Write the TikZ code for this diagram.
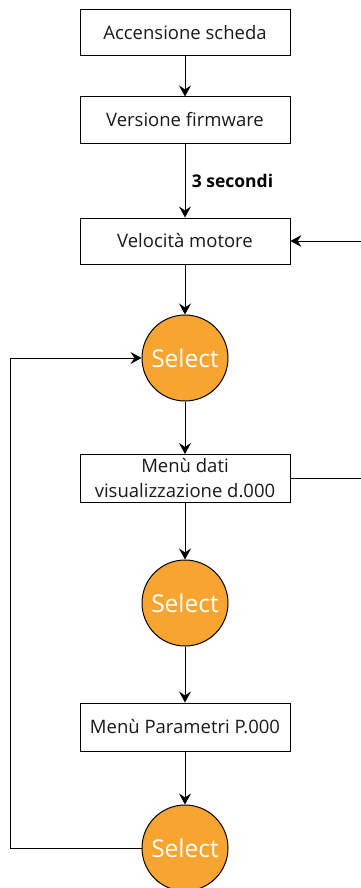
\documentclass[tikz,border=0pt]{standalone}
\usepackage{fontspec}
\setmainfont{Open Sans}
\usetikzlibrary{arrows.meta}
\definecolor{selorange}{RGB}{247,164,48}
\begin{document}
\begin{tikzpicture}[x=1pt,y=-1pt,
  stepbox/.style={draw,line width=1pt,minimum width=210pt,minimum height=46pt,inner sep=0pt,font=\fontsize{18.5}{22}\selectfont,align=center,text=black!90},
  selnode/.style={circle,draw,line width=1pt,fill=selorange,minimum size=86pt,inner sep=0pt,font=\fontsize{24.5}{26}\selectfont,text=white},
  conn/.style={line width=1pt,-{Stealth[length=11pt,width=12pt,inset=4pt]}},
  plain/.style={line width=1pt}]
\useasboundingbox (0,0) rectangle (360,888);
\node[stepbox] (b1) at (185,33) {Accensione scheda};
\node[stepbox] (b2) at (185,120) {Versione firmware};
\node[stepbox] (b3) at (185,241) {Velocità motore};
\node[selnode] (s1) at (185,358) {Select};
\node[stepbox,minimum height=48pt,font=\fontsize{18.5}{25}\selectfont] (b4) at (185,478.5) {Menù dati\\visualizzazione d.000};
\node[selnode] (s2) at (185,603) {Select};
\node[stepbox,minimum height=48pt] (b5) at (185,727) {Menù Parametri P.000};
\node[selnode] (s3) at (185,848) {Select};
\coordinate (rin) at (362,241);
\coordinate (rout) at (362,478);
\coordinate (l1) at (10,848);
\coordinate (l2) at (10,358);
\draw[conn] (b1) -- (b2);
\draw[conn] (b2) -- node[right,font=\bfseries\fontsize{17.5}{20}\selectfont,xshift=3pt] (lab) {3 secondi} (b3);
\draw[conn] (rin) -- (b3);
\draw[conn] (b3) -- (s1);
\draw[conn] (s1) -- (b4);
\draw[plain] (b4.east) -- (b4.east -| rout);
\draw[conn] (b4) -- (s2);
\draw[conn] (s2) -- (b5);
\draw[conn] (b5) -- (s3);
\draw[conn] (s3.west) -- (l1) -- (l2) -- (s1.west);
\end{tikzpicture}
\end{document}
